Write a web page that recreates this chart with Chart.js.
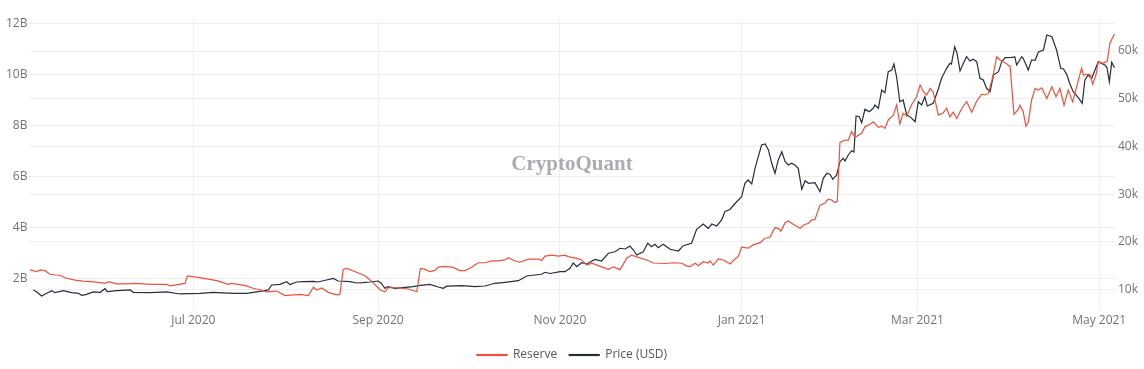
<!DOCTYPE html>
<html>
<head>
<meta charset="utf-8">
<script src="https://cdn.jsdelivr.net/npm/chart.js@4.4.1/dist/chart.umd.min.js"></script>
<style>
  html, body { margin: 0; padding: 0; background: #fff; }
  #wrap { position: relative; width: 1144px; height: 369px; }
  #mark {
    position: absolute; left: 29px; width: 1086px; top: 151px;
    text-align: center; font: bold 21px "Liberation Serif", serif;
    color: #a9acb0; pointer-events: none;
  }
</style>
</head>
<body>
<div id="wrap">
  <canvas id="chart" width="1144" height="369"></canvas>
  <div id="mark">CryptoQuant</div>
</div>
<script>
// days counted from 2020-05-07
const START = Date.UTC(2020, 4, 7);

const tickDates = ["2020-07-01", "2020-09-01", "2020-11-01", "2021-01-01", "2021-03-01", "2021-05-01"];
const tickLabels = ["Jul 2020", "Sep 2020", "Nov 2020", "Jan 2021", "Mar 2021", "May 2021"];

const reserveTicks = [2, 4, 6, 8, 10, 12];   // billions
const priceTicks = [10, 20, 30, 40, 50, 60]; // thousands USD

const reserveDays = [
  0.2, 2.4, 3.6, 5.2, 6.9, 8.6, 10.3, 11.9, 15.3, 18.0, 20.9, 23.7, 25.4, 26.5, 29.3, 32.1, 35.4, 41.0, 46.1, 47.2,
  52.2, 53.0, 57.2, 62.9, 66.7, 67.9, 72.9, 75.0, 77.4, 79.6, 83.0, 85.8, 90.8, 93.6, 95.3, 96.4, 98.1, 100.3, 103.1, 104.2,
  105.3, 106.5, 109.8, 112.6, 115.4, 117.7, 119.3, 120.4, 123.8, 127.1, 130.0, 131.2, 132.8, 134.4, 136.1, 137.2, 139.5, 142.2, 144.5, 146.2,
  148.4, 150.6, 152.9, 155.1, 157.2, 159.6, 160.7, 163.0, 164.6, 167.4, 170.8, 171.9, 173.0, 175.3, 177.5, 179.7, 180.8, 183.7, 185.3, 187.0,
  188.7, 192.0, 194.3, 196.0, 198.2, 200.5, 202.1, 203.8, 207.1, 209.4, 213.3, 216.1, 218.9, 220.6, 221.7, 223.4, 224.5, 226.1, 227.7, 228.4,
  229.5, 231.2, 232.9, 235.1, 236.8, 237.9, 239.0, 241.2, 242.9, 245.2, 246.8, 248.5, 250.2, 251.3, 252.2, 253.6, 254.7, 256.3, 258.6, 259.9,
  261.4, 262.5, 263.6, 265.3, 266.9, 268.0, 269.2, 270.3, 271.1, 272.0, 273.7, 274.8, 275.9, 277.1, 279.3, 280.4, 281.7, 283.2, 284.9, 286.0,
  287.1, 288.2, 289.9, 291.0, 292.1, 293.2, 294.4, 296.0, 297.7, 298.9, 300.0, 301.1, 302.3, 303.3, 304.5, 305.0, 306.6, 307.8, 308.9, 310.0,
  311.2, 312.9, 314.5, 316.2, 317.9, 319.6, 320.7, 321.8, 323.3, 324.6, 325.7, 326.8, 328.0, 329.1, 330.4, 331.7, 332.4, 333.5, 334.4, 335.2,
  336.3, 337.5, 338.5, 339.7, 341.4, 343.1, 344.5, 345.8, 347.2, 348.6, 350.1, 351.4, 353.1, 353.7, 354.8, 355.9, 356.8, 357.9, 358.7, 360.4,
  361.7, 362.6, 364.1
];
const reserveVals = [
  2.33, 2.26, 2.33, 2.30, 2.16, 2.13, 2.12, 2.02, 1.93, 1.89, 1.87, 1.83, 1.80, 1.87, 1.78, 1.78, 1.80, 1.76, 1.76, 1.70,
  1.80, 2.09, 2.03, 1.91, 1.76, 1.80, 1.70, 1.61, 1.55, 1.47, 1.50, 1.32, 1.37, 1.32, 1.65, 1.54, 1.62, 1.45, 1.35, 1.37,
  2.35, 2.39, 2.24, 2.10, 1.82, 1.54, 1.47, 1.63, 1.63, 1.58, 1.47, 2.39, 2.35, 2.26, 2.31, 2.44, 2.47, 2.43, 2.30, 2.30,
  2.43, 2.61, 2.61, 2.68, 2.68, 2.72, 2.81, 2.68, 2.63, 2.75, 2.75, 2.70, 2.87, 2.91, 2.87, 2.91, 2.85, 2.78, 2.72, 2.52,
  2.59, 2.45, 2.35, 2.45, 2.34, 2.80, 2.91, 2.84, 2.72, 2.60, 2.58, 2.61, 2.59, 2.48, 2.46, 2.59, 2.49, 2.65, 2.60, 2.68,
  2.52, 2.76, 2.72, 2.56, 2.76, 2.87, 3.22, 3.18, 3.31, 3.40, 3.57, 3.61, 3.99, 3.96, 3.85, 4.18, 4.25, 4.12, 3.96, 4.09,
  4.16, 4.29, 4.30, 4.87, 4.94, 5.10, 5.07, 4.97, 5.01, 7.33, 7.42, 7.42, 7.75, 7.53, 7.69, 7.95, 8.01, 8.14, 7.92, 7.97,
  7.88, 8.21, 8.40, 8.80, 8.05, 8.47, 8.36, 8.80, 9.12, 9.58, 9.32, 9.19, 9.45, 9.30, 8.67, 8.40, 8.48, 8.67, 8.33, 8.52,
  8.27, 8.67, 8.93, 8.51, 8.95, 9.22, 9.19, 9.25, 9.91, 10.69, 10.56, 10.49, 10.40, 10.30, 8.43, 8.60, 8.79, 8.53, 7.96, 8.12,
  8.99, 9.45, 9.38, 9.47, 9.05, 9.51, 9.12, 9.45, 8.79, 9.38, 8.92, 9.51, 10.24, 9.97, 10.00, 10.00, 9.61, 9.97, 10.49, 10.43,
  10.52, 11.22, 11.58
];

const priceDays = [
  1.3, 2.4, 4.1, 5.8, 7.5, 8.6, 11.4, 14.2, 16.4, 17.6, 19.2, 21.4, 23.7, 25.4, 26.1, 29.3, 33.8, 34.9, 40.5, 46.1,
  50.5, 57.2, 61.7, 68.4, 72.9, 77.4, 80.2, 81.3, 84.1, 86.3, 87.4, 89.7, 91.9, 95.3, 96.8, 98.6, 102.0, 103.6, 107.6, 109.8,
  112.0, 114.3, 117.0, 118.0, 119.3, 120.4, 122.7, 128.8, 130.5, 134.4, 137.2, 138.9, 140.0, 145.1, 149.5, 152.9, 156.2, 159.6, 164.1, 166.9,
  169.7, 171.9, 173.0, 174.7, 178.1, 179.7, 181.4, 182.5, 183.7, 185.3, 187.0, 189.8, 192.0, 194.3, 196.5, 198.2, 199.9, 201.5, 202.7, 203.8,
  206.0, 207.5, 208.8, 209.9, 211.0, 212.7, 215.0, 217.8, 219.4, 222.2, 223.9, 226.1, 227.8, 229.0, 230.6, 232.3, 233.4, 235.1, 236.8, 239.0,
  240.1, 241.2, 242.4, 243.5, 244.6, 245.7, 246.9, 248.0, 249.1, 250.2, 251.3, 252.5, 253.6, 254.7, 255.8, 256.9, 258.0, 259.2, 260.3, 261.4,
  263.6, 265.3, 266.4, 267.6, 268.7, 269.6, 270.9, 272.0, 273.1, 273.7, 274.8, 275.9, 276.7, 277.4, 278.5, 279.3, 280.4, 281.8, 283.2, 283.7,
  284.9, 286.0, 287.1, 288.2, 289.4, 290.1, 291.0, 292.1, 293.2, 294.4, 295.5, 297.2, 298.3, 299.4, 300.5, 301.3, 303.3, 304.9, 306.1, 307.8,
  308.9, 309.4, 310.5, 311.3, 312.3, 313.4, 314.5, 315.6, 316.7, 317.9, 319.0, 320.1, 321.2, 322.4, 323.5, 325.2, 326.3, 327.4, 329.6, 330.7,
  331.3, 333.0, 333.5, 335.2, 336.3, 337.5, 338.6, 340.3, 341.4, 343.1, 344.7, 346.1, 347.0, 348.1, 349.2, 350.3, 352.0, 353.3, 354.2, 355.3,
  356.5, 357.6, 358.7, 359.8, 360.9, 361.6, 362.4, 363.2, 364.1
];
const priceVals = [
  9.90, 9.54, 8.64, 9.20, 9.75, 9.33, 9.75, 9.33, 9.20, 8.78, 8.99, 9.48, 9.41, 10.17, 9.54, 9.75, 9.90, 9.41, 9.33, 9.48,
  9.06, 9.20, 9.41, 9.20, 9.20, 9.62, 9.90, 10.94, 11.09, 11.64, 11.05, 11.57, 11.64, 11.72, 11.57, 11.84, 12.31, 11.78, 11.64, 11.36,
  11.43, 11.57, 11.78, 11.36, 10.25, 10.59, 10.25, 10.59, 10.80, 11.05, 10.52, 10.25, 10.69, 10.80, 10.59, 10.73, 11.30, 11.51, 11.84, 12.83,
  13.04, 13.19, 13.61, 13.35, 13.73, 13.73, 14.44, 15.56, 14.78, 15.62, 15.35, 16.29, 15.97, 17.59, 17.92, 18.64, 18.49, 19.12, 18.28, 17.23,
  17.92, 19.69, 18.97, 19.48, 18.76, 19.48, 18.43, 18.07, 19.18, 19.69, 22.62, 23.73, 22.83, 23.73, 23.31, 24.57, 26.35, 26.77, 28.03, 29.45,
  32.26, 32.96, 32.12, 35.41, 37.84, 40.29, 40.50, 39.25, 36.46, 34.36, 37.15, 38.89, 36.79, 36.10, 36.46, 36.10, 35.41, 31.01, 32.81, 32.26,
  32.39, 30.50, 33.31, 34.36, 34.11, 33.10, 34.00, 36.79, 37.51, 36.94, 38.20, 39.10, 38.83, 46.37, 46.23, 44.97, 47.78, 47.27, 47.99, 48.68,
  47.99, 51.82, 51.26, 55.66, 56.02, 57.27, 54.61, 49.37, 49.73, 46.58, 46.23, 45.18, 49.37, 48.68, 50.42, 48.47, 49.04, 51.82, 54.28, 56.37,
  57.42, 57.27, 60.90, 59.52, 55.81, 57.42, 58.81, 57.90, 58.26, 57.76, 54.28, 53.92, 52.18, 51.47, 54.97, 55.66, 57.76, 58.60, 58.68, 58.74,
  57.06, 58.81, 58.47, 56.02, 58.11, 58.05, 59.79, 60.21, 63.35, 63.00, 60.21, 56.37, 56.23, 55.11, 53.02, 51.47, 50.21, 49.04, 53.92, 54.97,
  54.28, 56.02, 57.76, 57.38, 57.06, 56.54, 53.56, 57.63, 56.50
];

const tickDays = tickDates.map(s => (Date.parse(s + "T00:00:00Z") - START) / 86400000);

const gridColor = "#eeeeee";
const tickFont = { family: "Open Sans", size: 12 };
const tickColor = "#6f7378";

const ctx = document.getElementById("chart").getContext("2d");

new Chart(ctx, {
  type: "line",
  data: {
    datasets: [
      {
        label: "Reserve",
        data: reserveDays.map((d, i) => ({ x: d, y: reserveVals[i] })),
        yAxisID: "y",
        borderColor: "#f0503c",
        backgroundColor: "#f0503c",
        borderWidth: 1.2,
        pointRadius: 0,
        tension: 0
      },
      {
        label: "Price (USD)",
        data: priceDays.map((d, i) => ({ x: d, y: priceVals[i] })),
        yAxisID: "y1",
        borderColor: "#262d3b",
        backgroundColor: "#262d3b",
        borderWidth: 1.2,
        pointRadius: 0,
        tension: 0
      }
    ]
  },
  options: {
    responsive: false,
    animation: false,
    events: [],
    layout: { padding: { top: 20, left: 0, right: 0, bottom: -2 } },
    plugins: {
      tooltip: { enabled: false },
      legend: {
        position: "bottom",
        labels: {
          boxWidth: 30,
          boxHeight: 1,
          padding: 12,
          color: "#555",
          font: { family: "Open Sans", size: 12 }
        }
      }
    },
    scales: {
      x: {
        type: "linear",
        min: 0,
        max: 364.3,
        afterBuildTicks: axis => { axis.ticks = tickDays.map(v => ({ value: v })); },
        afterFit: scale => { scale.height = 27; },
        ticks: {
          callback: (v, i) => tickLabels[i],
          color: tickColor,
          font: tickFont,
          padding: 3,
          maxRotation: 0,
          autoSkip: false
        },
        grid: { color: gridColor, drawTicks: false },
        border: { display: false }
      },
      y: {
        position: "left",
        min: 0.757,
        max: 12.13,
        afterBuildTicks: axis => { axis.ticks = reserveTicks.map(v => ({ value: v })); },
        afterFit: scale => { scale.width = 29.4; },
        ticks: {
          callback: v => v + "B",
          color: tickColor,
          font: tickFont,
          padding: 2
        },
        grid: { color: gridColor, drawTicks: false },
        border: { display: false }
      },
      y1: {
        position: "right",
        min: 5.7,
        max: 66.5,
        afterBuildTicks: axis => { axis.ticks = priceTicks.map(v => ({ value: v })); },
        afterFit: scale => { scale.width = 29; },
        ticks: {
          callback: v => v + "k",
          color: tickColor,
          font: tickFont,
          padding: 3
        },
        grid: { color: gridColor, drawTicks: false },
        border: { display: false }
      }
    }
  }
});
</script>
</body>
</html>
